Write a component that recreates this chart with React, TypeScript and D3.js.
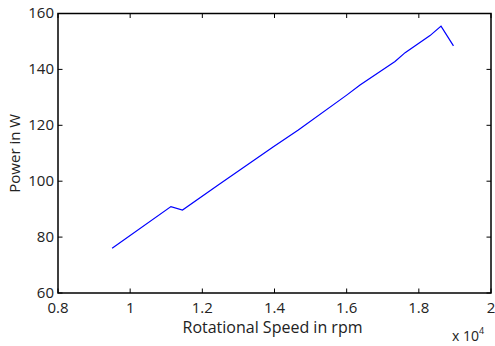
import React, { useEffect, useRef } from 'react';
import * as d3 from 'd3';

// rotational speed (rpm) and power (W)
const speeds = [9500, 11130, 11450, 12440, 13970, 14660, 16000, 16370, 17340, 17620, 18310, 18615, 18960];
const power = [76.0, 90.9, 89.7, 98.6, 112.3, 118.3, 130.8, 134.4, 142.8, 146.0, 152.1, 155.5, 148.4];
const xTicks = [0.8, 1, 1.2, 1.4, 1.6, 1.8, 2];
const yTicks = [60, 80, 100, 120, 140, 160];

const App = () => {
  const ref = useRef<SVGSVGElement>(null);

  useEffect(() => {
    const width = 495;
    const height = 346;
    const m = { left: 58, right: 4, top: 13.5, bottom: 53 };
    const font = '"Open Sans", "Noto Sans", sans-serif';

    const svg = d3.select(ref.current);
    svg.selectAll('*').remove();

    const x = d3.scaleLinear().domain([0.8, 2]).range([m.left, width - m.right]);
    const y = d3.scaleLinear().domain([60, 160]).range([height - m.bottom, m.top]);
    const [x0, x1] = x.range();
    const [y0, y1] = y.range();
    const tick = 4.5;

    svg.append('rect').attr('width', width).attr('height', height).attr('fill', '#fff');

    // line
    const line = d3.line<number>()
      .x((_, i) => x(speeds[i] / 1e4))
      .y(d => y(d));
    svg.append('path')
      .datum(power)
      .attr('d', line)
      .attr('fill', 'none')
      .attr('stroke', '#0000ff')
      .attr('stroke-width', 1.2);

    // inward ticks on all four sides
    const g = svg.append('g').attr('stroke', '#000').attr('stroke-width', 1);
    xTicks.forEach(t => {
      g.append('line').attr('x1', x(t)).attr('x2', x(t)).attr('y1', y0).attr('y2', y0 - tick);
      g.append('line').attr('x1', x(t)).attr('x2', x(t)).attr('y1', y1).attr('y2', y1 + tick);
    });
    yTicks.forEach(t => {
      g.append('line').attr('x1', x0).attr('x2', x0 + tick).attr('y1', y(t)).attr('y2', y(t));
      g.append('line').attr('x1', x1).attr('x2', x1 - tick).attr('y1', y(t)).attr('y2', y(t));
    });

    // box
    svg.append('rect')
      .attr('x', x0).attr('y', y1)
      .attr('width', x1 - x0).attr('height', y0 - y1)
      .attr('fill', 'none').attr('stroke', '#000').attr('stroke-width', 1.5);

    // tick labels
    svg.append('g').selectAll('text').data(xTicks).join('text')
      .attr('x', d => x(d)).attr('y', y0 + 20)
      .attr('text-anchor', 'middle')
      .attr('font-family', font).attr('font-size', 15).attr('fill', '#222')
      .text(d => String(d));
    svg.append('g').selectAll('text').data(yTicks).join('text')
      .attr('x', x0 - 4).attr('y', d => y(d) + 4.5)
      .attr('text-anchor', 'end')
      .attr('font-family', font).attr('font-size', 15).attr('fill', '#222')
      .text(d => String(d));

    // axis labels
    svg.append('text')
      .attr('x', (x0 + x1) / 2 - 2).attr('y', y0 + 40)
      .attr('text-anchor', 'middle')
      .attr('font-family', font).attr('font-size', 16).attr('fill', '#222')
      .text('Rotational Speed in rpm');
    svg.append('text')
      .attr('transform', `translate(20,${(y0 + y1) / 2}) rotate(-90)`)
      .attr('text-anchor', 'middle')
      .attr('font-family', font).attr('font-size', 15).attr('fill', '#222')
      .text('Power in W');

    // exponent
    const ex = svg.append('text')
      .attr('x', 452).attr('y', 341)
      .attr('font-family', font).attr('font-size', 14).attr('fill', '#222');
    ex.append('tspan').text('x 10');
    ex.append('tspan').attr('dy', -7).attr('font-size', 9).text('4');
  }, []);

  return (
    <svg
      ref={ref}
      width={495}
      height={346}
      style={{ position: 'absolute', left: 0, top: 0, display: 'block' }}
    />
  );
};

export default App;
